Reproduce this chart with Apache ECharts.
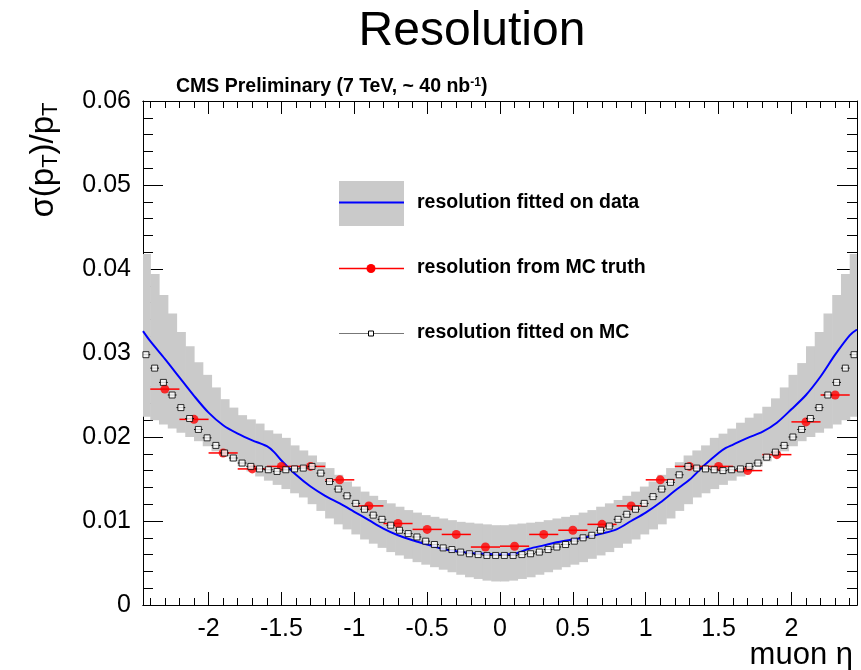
<!DOCTYPE html>
<html><head><meta charset="utf-8">
<script src="https://cdn.jsdelivr.net/npm/echarts@6/dist/echarts.min.js"></script>
<style>html,body{margin:0;padding:0;background:#fff}#c{width:861px;height:670px}</style>
</head><body><div id="c"></div>
<script>
// ---- data ----
const binStart = -2.46, binWidth = 0.06; // 82 eta bins
const mcFit = [0.0298,0.0282,0.0265,0.0250,0.0235,0.0222,0.0209,0.0199,0.0190,0.0181,0.0175,0.0169,0.0165,0.0162,0.0161,0.0159,0.0161,0.0162,0.0163,0.0165,0.0157,0.0147,0.0138,0.0130,0.0121,0.0114,0.0107,0.0102,0.0095,0.0089,0.0085,0.0081,0.0076,0.0072,0.0068,0.0066,0.0063,0.0061,0.0060,0.0059,0.0059,
  0.0059,0.0059,0.0060,0.0061,0.0063,0.0066,0.0069,0.0072,0.0076,0.0080,0.0083,0.0089,0.0094,0.0102,0.0108,0.0114,0.0121,0.0129,0.0138,0.0146,0.0155,0.0165,0.0163,0.0162,0.0161,0.0160,0.0161,0.0162,0.0165,0.0169,0.0176,0.0182,0.0190,0.0200,0.0209,0.0222,0.0235,0.0250,0.0265,0.0282,0.0298];
const bandUpper = [0.0418,0.0394,0.0369,0.0347,0.0325,0.0308,0.0289,0.0274,0.0259,0.0245,0.0235,0.0226,0.0221,0.0216,0.0208,0.0204,0.0199,0.0190,0.0184,0.0178,0.0170,0.0163,0.0155,0.0147,0.0141,0.0135,0.0130,0.0125,0.0121,0.0117,0.0113,0.0110,0.0107,0.0105,0.0103,0.0101,0.0099,0.0098,0.0097,0.0096,0.0095,
  0.0095,0.0096,0.0097,0.0098,0.0099,0.0101,0.0103,0.0105,0.0107,0.0110,0.0113,0.0117,0.0121,0.0125,0.0130,0.0135,0.0141,0.0147,0.0155,0.0163,0.0170,0.0178,0.0184,0.0190,0.0199,0.0204,0.0210,0.0217,0.0223,0.0228,0.0236,0.0246,0.0259,0.0274,0.0288,0.0308,0.0325,0.0347,0.0369,0.0394,0.0418];
const bandLower = [0.0224,0.0220,0.0215,0.0210,0.0205,0.0200,0.0195,0.0189,0.0183,0.0177,0.0171,0.0165,0.0159,0.0153,0.0148,0.0143,0.0138,0.0133,0.0128,0.0120,0.0112,0.0103,0.0096,0.0090,0.0084,0.0078,0.0073,0.0068,0.0063,0.0059,0.0055,0.0051,0.0048,0.0045,0.0042,0.0039,0.0036,0.0033,0.0031,0.0029,0.0028,
  0.0028,0.0029,0.0031,0.0033,0.0036,0.0039,0.0042,0.0045,0.0048,0.0051,0.0055,0.0059,0.0063,0.0068,0.0073,0.0078,0.0084,0.0090,0.0096,0.0103,0.0112,0.0120,0.0128,0.0133,0.0138,0.0143,0.0148,0.0153,0.0159,0.0165,0.0171,0.0177,0.0183,0.0189,0.0195,0.0200,0.0205,0.0210,0.0215,0.0220,0.0224];
const fitEta = [-2.45,-2.4,-2.3,-2.2,-2.1,-2.0,-1.9,-1.8,-1.7,-1.6,-1.55,-1.5,-1.4,-1.3,-1.2,-1.1,-1.0,-0.9,-0.8,-0.7,-0.6,-0.5,-0.4,-0.3,-0.2,-0.1,0,0.1,0.2,0.3,0.4,0.5,0.6,0.7,0.8,0.9,1.0,1.1,1.2,1.3,1.4,1.5,1.55,1.6,1.7,1.8,1.9,2.0,2.1,2.2,2.3,2.4,2.45];
const fitVal = [0.0326,0.0314,0.0293,0.0271,0.0249,0.0229,0.0214,0.0204,0.0196,0.0189,0.0182,0.0172,0.0155,0.0141,0.0130,0.0121,0.0111,0.0101,0.0091,0.0083,0.0077,0.0072,0.0067,0.0064,0.0062,0.0061,0.0060,0.0061,0.0067,0.0071,0.0075,0.0078,0.0081,0.0085,0.0090,0.0100,0.0110,0.0122,0.0136,0.0149,0.0166,0.0181,0.0187,0.0191,0.0199,0.0206,0.0217,0.0233,0.0250,0.0272,0.0298,0.0321,0.0328];
const truthEta = [-2.3,-2.1,-1.9,-1.7,-1.5,-1.3,-1.1,-0.9,-0.7,-0.5,-0.3,-0.1,0.1,0.3,0.5,0.7,0.9,1.1,1.3,1.5,1.7,1.9,2.1,2.3];
const truthVal = [0.0257,0.0221,0.0181,0.0162,0.0165,0.0165,0.0149,0.0118,0.0097,0.0090,0.0084,0.0069,0.0070,0.0084,0.0089,0.0096,0.0118,0.0149,0.0165,0.0165,0.0160,0.0179,0.0218,0.0250];
const truthHalfWidth = 0.1;
const xMajorTicks = [-2,-1.5,-1,-0.5,0,0.5,1,1.5,2];
const xMinorTicks = [-2.4,-2.3,-2.2,-2.1,-2.0,-1.9,-1.8,-1.7,-1.6,-1.5,-1.4,-1.3,-1.2,-1.1,-1.0,-0.9,-0.8,-0.7,-0.6,-0.5,-0.4,-0.3,-0.2,-0.1,0,0.1,0.2,0.3,0.4,0.5,0.6,0.7,0.8,0.9,1.0,1.1,1.2,1.3,1.4,1.5,1.6,1.7,1.8,1.9,2.0,2.1,2.2,2.3,2.4];
const yTickLabels = ['0','0.01','0.02','0.03','0.04','0.05','0.06'];

// ---- build ----
const FONT = "'Liberation Sans', Arial, Helvetica, sans-serif";
const binCenters = mcFit.map((_, i) => +(binStart + binWidth * (i + 0.5)).toFixed(3));
const chart = echarts.init(document.getElementById('c'), null, {renderer: 'canvas'});

function xAx(pos, ticks, len, labels) {
  return {
    type: 'value', position: pos, min: -2.45, max: 2.45,
    axisLine: {show: true, onZero: false, lineStyle: {color: '#000', width: 1}},
    axisTick: {show: true, inside: true, length: len, customValues: ticks, lineStyle: {color: '#000'}},
    axisLabel: labels ? {show: true, customValues: xMajorTicks, formatter: v => String(v), fontFamily: FONT, fontSize: 25, color: '#000', margin: 12} : {show: false},
    splitLine: {show: false}
  };
}
function yAx(pos, labels) {
  return {
    type: 'value', position: pos, min: 0, max: 0.06, interval: 0.01,
    axisLine: {show: true, onZero: false, lineStyle: {color: '#000', width: 1}},
    axisTick: {show: true, inside: true, length: 20, lineStyle: {color: '#000'}},
    minorTick: {show: true, splitNumber: 5, length: 10, lineStyle: {color: '#000'}},
    axisLabel: labels ? {show: true, formatter: v => yTickLabels[Math.round(v * 100)], fontFamily: FONT, fontSize: 25, color: '#000', margin: 12} : {show: false},
    splitLine: {show: false}
  };
}

const option = {
  animation: false,
  backgroundColor: '#fff',
  grid: {left: 143, right: 4, top: 101, bottom: 65, containLabel: false},
  xAxis: [xAx('bottom', xMinorTicks, 7, false), xAx('bottom', xMajorTicks, 13, true), xAx('top', xMinorTicks, 7, false), xAx('top', xMajorTicks, 13, false)],
  yAxis: [yAx('left', true), yAx('right', false)],
  series: [
    {
      type: 'custom', name: 'band', clip: true, silent: true, z: 1,
      data: binCenters.map((c, i) => [c - binWidth / 2, c + binWidth / 2, bandLower[i], bandUpper[i]]),
      encode: {x: [0, 1], y: [2, 3]},
      renderItem(params, api) {
        const a = api.coord([api.value(0), api.value(3)]);
        const b = api.coord([api.value(1), api.value(2)]);
        return {type: 'rect', shape: {x: a[0], y: a[1], width: b[0] - a[0] + 0.6, height: b[1] - a[1]}, style: {fill: '#cacaca'}};
      }
    },
    {
      type: 'line', name: 'fit data', z: 3, showSymbol: false, smooth: 0.3,
      data: fitEta.map((e, i) => [e, fitVal[i]]),
      lineStyle: {color: '#0000ff', width: 2}
    },
    {
      type: 'custom', name: 'truth err', clip: true, z: 4, silent: true,
      data: truthEta.map((e, i) => [e, truthVal[i]]),
      renderItem(params, api) {
        const a = api.coord([api.value(0) - truthHalfWidth, api.value(1)]);
        const b = api.coord([api.value(0) + truthHalfWidth, api.value(1)]);
        return {type: 'line', shape: {x1: a[0], y1: a[1], x2: b[0], y2: b[1]}, style: {stroke: '#ff0000', lineWidth: 1.5}};
      }
    },
    {
      type: 'scatter', name: 'truth', z: 5, symbol: 'circle', symbolSize: 9,
      data: truthEta.map((e, i) => [e, truthVal[i]]),
      itemStyle: {color: '#ff0000'}
    },
    {
      type: 'custom', name: 'mc err', clip: true, z: 6, silent: true,
      data: binCenters.map((c, i) => [c, mcFit[i]]),
      renderItem(params, api) {
        const a = api.coord([api.value(0) - binWidth / 2, api.value(1)]);
        const b = api.coord([api.value(0) + binWidth / 2, api.value(1)]);
        return {type: 'line', shape: {x1: a[0], y1: a[1], x2: b[0], y2: b[1]}, style: {stroke: '#000', lineWidth: 1}};
      }
    },
    {
      type: 'scatter', name: 'mc fit', z: 7, symbol: 'rect', symbolSize: 6,
      data: binCenters.map((c, i) => [c, mcFit[i]]),
      itemStyle: {color: '#fff', borderColor: '#000', borderWidth: 1}
    }
  ],
  graphic: [
    {type: 'text', x: 472, y: 32, style: {text: 'Resolution', font: `48px ${FONT}`, fill: '#000', align: 'center', verticalAlign: 'middle'}},
    {type: 'text', x: 176, y: 87, style: {text: 'CMS Preliminary (7 TeV, ~ 40 nb{sup|-1})', font: `bold 19.5px ${FONT}`, fill: '#000', verticalAlign: 'middle',
      rich: {sup: {font: `bold 12px ${FONT}`, verticalAlign: 'top', padding: [0, 0, 8, 0]}}}},
    {type: 'text', x: 44, y: 160, rotation: Math.PI / 2, style: {text: 'σ(p{s|T})/p{s|T}', font: `33px ${FONT}`, fill: '#000', align: 'center', verticalAlign: 'middle',
      rich: {s: {font: `22px ${FONT}`, verticalAlign: 'bottom', padding: [13, 0, 0, 0]}}}},
    {type: 'text', x: 853, y: 655, style: {text: 'muon η', font: `31px ${FONT}`, fill: '#000', align: 'right', verticalAlign: 'middle'}},
    // legend
    {type: 'rect', shape: {x: 339, y: 181, width: 65, height: 45}, style: {fill: '#cacaca'}},
    {type: 'line', shape: {x1: 339, y1: 202.5, x2: 404, y2: 202.5}, style: {stroke: '#0000ff', lineWidth: 2}},
    {type: 'text', x: 417, y: 203, style: {text: 'resolution fitted on data', font: `bold 19.5px ${FONT}`, fill: '#000', verticalAlign: 'middle'}},
    {type: 'line', shape: {x1: 339, y1: 268.5, x2: 404, y2: 268.5}, style: {stroke: '#ff0000', lineWidth: 1.5}},
    {type: 'circle', shape: {cx: 371, cy: 268.5, r: 4.5}, style: {fill: '#ff0000'}},
    {type: 'text', x: 417, y: 268, style: {text: 'resolution from MC truth', font: `bold 19.5px ${FONT}`, fill: '#000', verticalAlign: 'middle'}},
    {type: 'line', shape: {x1: 339, y1: 333.5, x2: 404, y2: 333.5}, style: {stroke: '#777', lineWidth: 1}},
    {type: 'rect', shape: {x: 368.5, y: 331, width: 5, height: 5}, style: {fill: '#fff', stroke: '#000', lineWidth: 1}},
    {type: 'text', x: 417, y: 333, style: {text: 'resolution fitted on MC', font: `bold 19.5px ${FONT}`, fill: '#000', verticalAlign: 'middle'}}
  ]
};
chart.setOption(option);
</script></body></html>
